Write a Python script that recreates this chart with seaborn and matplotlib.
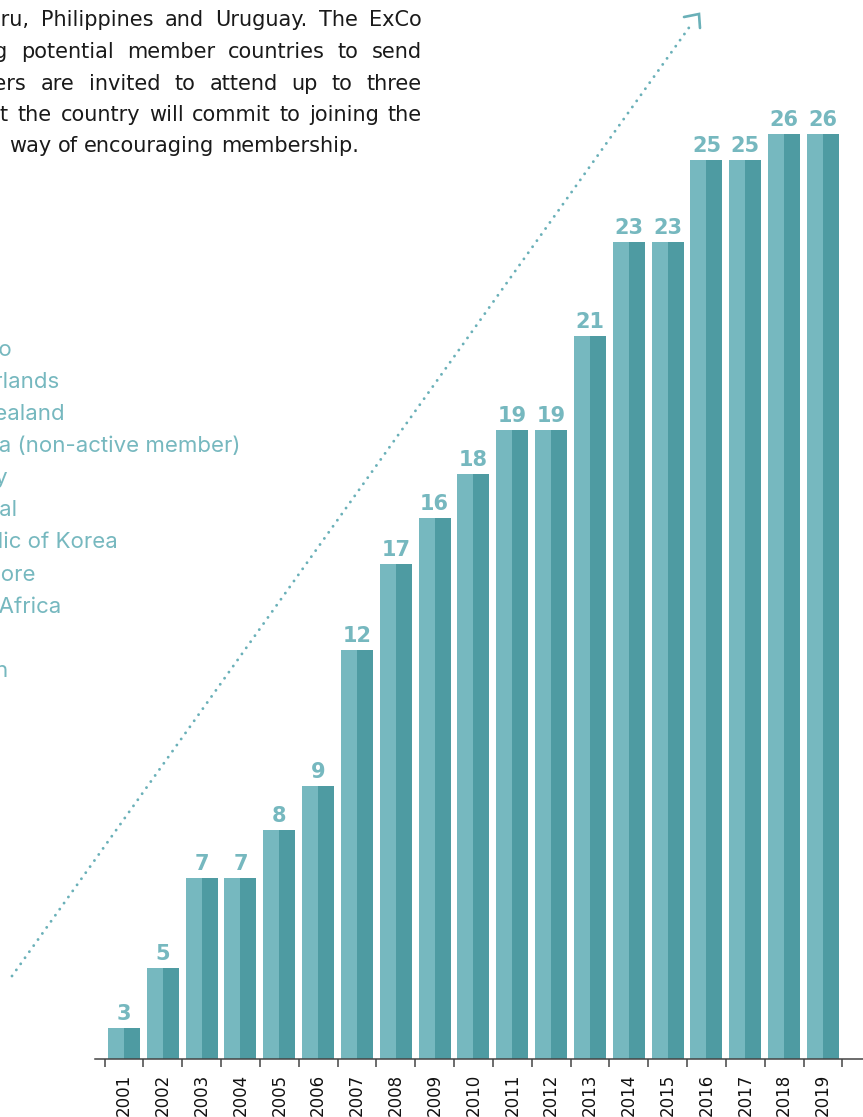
import matplotlib
matplotlib.use("Agg")
import matplotlib.pyplot as plt
import seaborn as sns
import pandas as pd
import numpy as np
from matplotlib.lines import Line2D

# ---------------- data ----------------
years = [str(y) for y in range(2001, 2020)]
members = [3, 5, 7, 7, 8, 9, 12, 17, 16, 18, 19, 19, 21, 23, 23, 25, 25, 26, 26]
# drawn bar heights (same scale as the labels at the top)
bar_heights = [0.87, 2.56, 5.09, 5.09, 6.44, 7.67, 11.50, 13.91, 15.21, 16.44,
               17.68, 17.68, 20.32, 22.96, 22.96, 25.27, 25.27, 26.0, 26.0]

paragraph_lines = [
    "Peru, Philippines and Uruguay. The ExCo",
    "encouraging potential member countries to send",
    "Observers are invited to attend up to three",
    "that the country will commit to joining the",
    "a way of encouraging membership.",
]
countries = ["Mexico", "Netherlands", "New Zealand", "Nigeria (non-active member)",
             "Norway", "Portugal", "Republic of Korea", "Singapore", "South Africa",
             "Spain", "Sweden"]

# ---------------- style ----------------
LIGHT = "#76b8bf"
DARK = "#4e9ba2"
TEAL_TEXT = "#76b8bf"
W, H = 863, 1117

sns.set_theme(style="white")
plt.rcParams["font.family"] = ["DejaVu Sans"]

fig = plt.figure(figsize=(W / 100, H / 100), dpi=100)
fig.patch.set_facecolor("white")

def fx(px):
    return px / W

def fy(py):
    return 1 - py / H

# ---------------- bars ----------------
ax = fig.add_axes([fx(95), 58 / H, (W - 95) / W, 1059 / H])
ax.patch.set_visible(False)

df = pd.DataFrame({
    "year": years * 2,
    "height": bar_heights * 2,
    "side": ["left"] * len(years) + ["right"] * len(years),
})
sns.barplot(data=df, x="year", y="height", hue="side", palette=[LIGHT, DARK],
            width=0.824, gap=0, dodge=True, errorbar=None, linewidth=0,
            saturation=1, legend=False, ax=ax)

px_per_unit = 35.58
ax.set_ylim(0, 1059 / px_per_unit)
ax.set_xlim(-0.745, 19.03)

for i, (v, h) in enumerate(zip(members, bar_heights)):
    ax.annotate(str(v), (i, h), xytext=(0, 5.8), textcoords="offset points",
                ha="center", va="baseline", fontsize=15, fontweight="bold",
                color=TEAL_TEXT)

ax.set_xticks(range(len(years)))
ax.set_xticklabels(years, rotation=90, fontsize=12, color="#111111")
ax.set_xticks(np.arange(-0.5, len(years)), minor=True)
ax.tick_params(axis="x", which="both", bottom=True)
ax.tick_params(axis="x", which="major", length=0, pad=10.8)
ax.tick_params(axis="x", which="minor", length=6, width=1.1, color="#444444",
               direction="out")
ax.set_yticks([])
ax.set_xlabel("")
ax.set_ylabel("")
for s in ["left", "top", "right"]:
    ax.spines[s].set_visible(False)
ax.spines["bottom"].set_color("#444444")
ax.spines["bottom"].set_linewidth(1.1)

# ---------------- paragraph (justified) ----------------
renderer = fig.canvas.get_renderer()
para_kw = dict(fontsize=15, color="#1a1a1a", family="DejaVu Sans")

def text_width(s, **kw):
    t = fig.text(0, 0, s, **kw)
    w = t.get_window_extent(renderer).width
    t.remove()
    return w

first_word_end = [29, 8, 27, 9, 2]
baselines = [26.5, 58, 89.5, 121, 152.5]
right_edge = 422
space_w = text_width("a a", **para_kw) - 2 * text_width("a", **para_kw)
for k, line in enumerate(paragraph_lines):
    words = line.split()
    widths = [text_width(w, **para_kw) for w in words]
    left = first_word_end[k] - widths[0]
    if k < len(paragraph_lines) - 1:
        gap_w = (right_edge - left - sum(widths)) / (len(words) - 1)
    else:
        gap_w = space_w
    x = left
    for w, wd in zip(words, widths):
        fig.text(fx(x), fy(baselines[k]), w, ha="left", va="baseline", **para_kw)
        x += wd + gap_w

# ---------------- country list (cut by the left page edge) ----------------
list_kw = dict(fontsize=16, color=TEAL_TEXT, family="Inter")
list_right_ends = [12, 59, 65, 240, 8, 17, 118, 36, 61, -3, 9]
for k, (c, xr) in enumerate(zip(countries, list_right_ends)):
    fig.text(fx(xr), fy(355.5 + 32.15 * k), c, ha="right", va="baseline", **list_kw)

# ---------------- dotted arrow ----------------
ARROW = "#6ab0b8"
fig.add_artist(Line2D([fx(12), fx(693)], [fy(976), fy(22)], transform=fig.transFigure,
                      color=ARROW, lw=2.1, linestyle=(0, (0.01, 2.55)),
                      dash_capstyle="round"))
fig.add_artist(Line2D([fx(684), fx(699), fx(700)], [fy(17), fy(14), fy(28)],
                      transform=fig.transFigure, color=ARROW, lw=1.9,
                      solid_joinstyle="miter"))

fig.savefig("out.png", dpi=100, facecolor="white")
